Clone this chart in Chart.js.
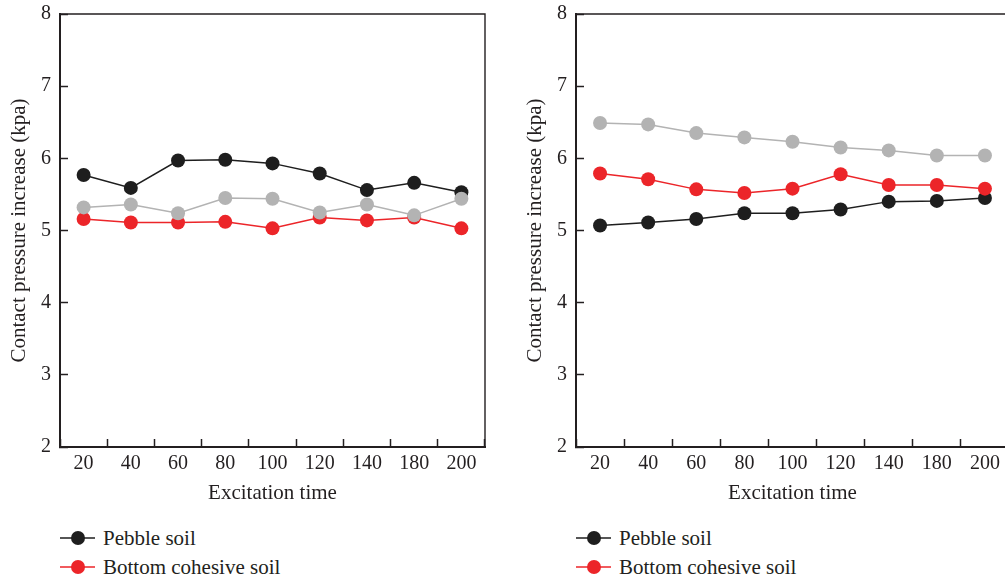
<!DOCTYPE html>
<html>
<head>
<meta charset="utf-8">
<script src="https://cdn.jsdelivr.net/npm/chart.js@4"></script>
<style>
  html, body { margin: 0; padding: 0; background: #fff; overflow: hidden; }
  body { width: 1005px; height: 580px; position: relative; }
  .panel { position: absolute; top: 0; height: 510px; }
  .legend { position: absolute; top: 526px; font-family: "Liberation Serif", serif; font-size: 21px; color: #231f20; }
  .item { position: absolute; left: 0; height: 24px; white-space: nowrap; display: flex; align-items: center; }
  .item svg { margin-right: 8px; }
</style>
</head>
<body>
<div class="panel" id="leftPanel" style="left:0px; width:500px;"><canvas id="leftChart"></canvas></div>
<div class="panel" id="rightPanel" style="left:516px; width:508px;"><canvas id="rightChart"></canvas></div>
<div class="legend" id="leftLegend" style="left:60px;"></div>
<div class="legend" id="rightLegend" style="left:576px;"></div>
<script>
let categories = ["20", "40", "60", "80", "100", "120", "140", "180", "200"];
let yTicks = [2, 3, 4, 5, 6, 7, 8];

let leftPebble = [5.77, 5.59, 5.97, 5.98, 5.93, 5.79, 5.56, 5.66, 5.53];
let leftCohesive = [5.16, 5.11, 5.11, 5.12, 5.03, 5.18, 5.14, 5.18, 5.03];
let leftThird = [5.32, 5.36, 5.24, 5.45, 5.44, 5.25, 5.36, 5.21, 5.44];

let rightPebble = [5.07, 5.11, 5.16, 5.24, 5.24, 5.29, 5.40, 5.41, 5.45];
let rightCohesive = [5.79, 5.71, 5.57, 5.52, 5.58, 5.78, 5.63, 5.63, 5.58];
let rightThird = [6.49, 6.47, 6.35, 6.29, 6.23, 6.15, 6.11, 6.04, 6.04];

let ink = "#231f20";
let black = "#1e1e1e";
let red = "#ec2529";
let gray = "#b3b3b3";
let tickFont = { family: "'Liberation Serif', serif", size: 20 };
let titleFont = { family: "'Liberation Serif', serif", size: 21 };

// top and right edges of the box
let framePlugin = {
  id: "frame",
  beforeDatasetsDraw(chart) {
    let a = chart.chartArea;
    let ctx = chart.ctx;
    ctx.save();
    ctx.strokeStyle = ink;
    ctx.lineWidth = 1.4;
    ctx.beginPath();
    ctx.moveTo(a.left, a.top);
    ctx.lineTo(a.right, a.top);
    ctx.lineTo(a.right, a.bottom);
    ctx.stroke();
    ctx.restore();
  },
};

function series(label, data, color, order) {
  return {
    label: label,
    data: data,
    borderColor: color,
    backgroundColor: color,
    pointBackgroundColor: color,
    pointBorderColor: color,
    borderWidth: 1.5,
    pointRadius: 7,
    pointBorderWidth: 0,
    tension: 0,
    order: order,
  };
}

function makeChart(canvas, pebble, cohesive, third) {
  return new Chart(canvas, {
    type: "line",
    data: {
      labels: categories,
      datasets: [
        series("Pebble soil", pebble, black, 2),
        series("Bottom cohesive soil", cohesive, red, 1),
        series("Third layer", third, gray, 0),
      ],
    },
    options: {
      responsive: true,
      maintainAspectRatio: false,
      animation: false,
      layout: { padding: { top: 0, right: 15, left: 0, bottom: 0 } },
      scales: {
        x: {
          type: "category",
          offset: true,
          grid: {
            offset: true,
            drawOnChartArea: false,
            color: ink,
            tickLength: -8,
            tickWidth: 1.5,
          },
          border: { display: true, color: ink, width: 2 },
          ticks: { color: ink, font: tickFont, padding: 13, autoSkip: false, maxRotation: 0 },
          title: {
            display: true,
            text: "Excitation time",
            color: ink,
            font: titleFont,
            padding: { top: 4, bottom: 4 },
          },
          afterFit: (scale) => {
            scale.height = 63;
          },
        },
        y: {
          min: 2,
          max: 8,
          afterBuildTicks: (scale) => {
            scale.ticks = yTicks.map((v) => ({ value: v }));
          },
          grid: {
            drawOnChartArea: false,
            color: ink,
            tickLength: -8,
            tickWidth: 1.5,
          },
          border: { display: true, color: ink, width: 2 },
          ticks: { color: ink, font: tickFont, padding: 17 },
          title: {
            display: true,
            text: "Contact pressure increase (kpa)",
            color: ink,
            font: titleFont,
            padding: { top: 7, bottom: 4 },
          },
          afterFit: (scale) => {
            scale.width = 60;
            scale.paddingTop = 14;
            scale.paddingBottom = 0;
          },
        },
      },
      plugins: {
        legend: { display: false },
        tooltip: { enabled: false },
      },
    },
    plugins: [framePlugin],
  });
}

function makeLegend(holder, chart) {
  let shown = chart.data.datasets.slice(0, 2);
  shown.forEach((ds, i) => {
    let item = document.createElement("div");
    item.className = "item";
    item.style.top = i * 29 + "px";
    item.innerHTML =
      '<svg width="35" height="16"><line x1="0" y1="8" x2="35" y2="8" stroke="' +
      ds.borderColor +
      '" stroke-width="1.5"/><circle cx="18" cy="8" r="7" fill="' +
      ds.borderColor +
      '"/></svg>';
    let text = document.createElement("span");
    text.textContent = ds.label;
    item.appendChild(text);
    holder.appendChild(item);
  });
}

let leftChart = makeChart(document.querySelector("#leftChart"), leftPebble, leftCohesive, leftThird);
let rightChart = makeChart(document.querySelector("#rightChart"), rightPebble, rightCohesive, rightThird);

makeLegend(document.querySelector("#leftLegend"), leftChart);
makeLegend(document.querySelector("#rightLegend"), rightChart);
</script>
</body>
</html>
